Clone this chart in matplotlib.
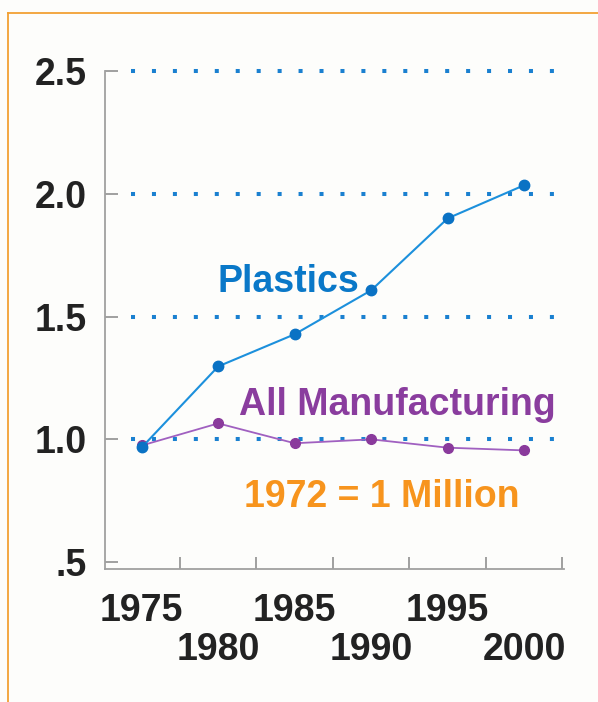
import matplotlib
matplotlib.use("Agg")
import matplotlib.pyplot as plt
from matplotlib.lines import Line2D

# ---- data ----
years = [1975, 1980, 1985, 1990, 1995, 2000]
plastics = [0.967, 1.297, 1.428, 1.607, 1.900, 2.035]
all_mfg = [0.975, 1.065, 0.984, 1.000, 0.966, 0.955]
yticks = [0.5, 1.0, 1.5, 2.0, 2.5]
ytick_labels = [".5", "1.0", "1.5", "2.0", "2.5"]
grid_levels = [1.0, 1.5, 2.0, 2.5]
xlabels_row1 = [1975, 1985, 1995]
xlabels_row2 = [1980, 1990, 2000]
xtick_marks = [1977.5, 1982.5, 1987.5, 1992.5, 1997.5, 2002.5]

plt.rcParams['font.family'] = ['Liberation Sans', 'DejaVu Sans']
FS = 27

fig = plt.figure(figsize=(5.98, 7.02), dpi=100, facecolor='#fdfdfb')
ax = fig.add_axes([105/598, 133/702, 459/598, 498/702])
ax.set_facecolor('#fdfdfb')

ax.set_xlim(1972.6, 2002.6)
ax.set_ylim(0.472, 2.5)

for s in ['top', 'right']:
    ax.spines[s].set_visible(False)
for s in ['left', 'bottom']:
    ax.spines[s].set_color('#a0a0a0')
    ax.spines[s].set_linewidth(1.3)

# dotted grid
for g in grid_levels:
    ax.axhline(g, xmin=0.057, xmax=0.978, color='#1a80d0', lw=2.9,
               linestyle=(0, (1, 4.2)), dash_capstyle='butt', zorder=1, clip_on=False)

# series
ax.plot(years, all_mfg, color='#a060c0', lw=1.3, zorder=3,
        marker='o', markersize=7, markerfacecolor='#8a3a9c', markeredgecolor='#8a3a9c')
ax.plot(years, plastics, color='#1c90dc', lw=1.5, zorder=4,
        marker='o', markersize=7.5, markerfacecolor='#0a72c4', markeredgecolor='#0a72c4')

# annotations
ax.text(1984.6, 1.64, "Plastics", color='#0a78c8', fontsize=FS, fontweight='bold',
        ha='center', va='center')
ax.text(1991.7, 1.14, "All Manufacturing", color='#8a3d9e', fontsize=FS, fontweight='bold',
        ha='center', va='center')
ax.text(1990.7, 0.765, "1972 = 1 Million", color='#f7941d', fontsize=FS, fontweight='bold',
        ha='center', va='center')

# y axis
ax.set_yticks(yticks)
ax.set_yticklabels(ytick_labels)
ax.tick_params(axis='y', direction='in', length=9, width=1.2, color='#909090',
               pad=13, labelsize=FS, labelcolor='#222222')
for lab in ax.get_yticklabels():
    lab.set_fontweight('bold')

# x axis: inward tick marks between years
ax.set_xticks(xtick_marks)
ax.tick_params(axis='x', which='major', direction='in', length=9, width=1.2,
               color='#909090', labelbottom=False)
ax.set_xticks(xlabels_row1, minor=True)
ax.set_xticklabels([str(y) for y in xlabels_row1], minor=True)
ax.tick_params(axis='x', which='minor', length=0, pad=17, labelsize=FS,
               labelcolor='#222222')
for lab in ax.get_xticklabels(minor=True):
    lab.set_fontweight('bold')

sec = ax.secondary_xaxis('bottom')
sec.spines['bottom'].set_visible(False)
sec.set_xticks(xlabels_row2)
sec.set_xticklabels([str(y) for y in xlabels_row2])
sec.tick_params(axis='x', length=0, pad=45, labelsize=FS, labelcolor='#222222')
for lab in sec.get_xticklabels():
    lab.set_fontweight('bold')

# orange frame lines
fig.add_artist(Line2D([8/598, 1.0], [1 - 13/702, 1 - 13/702], transform=fig.transFigure,
                      color='#f2a033', lw=1.3))
fig.add_artist(Line2D([8/598, 8/598], [0, 1 - 13/702], transform=fig.transFigure,
                      color='#f2a033', lw=1.3))

fig.savefig("out.png", dpi=100, facecolor=fig.get_facecolor())
